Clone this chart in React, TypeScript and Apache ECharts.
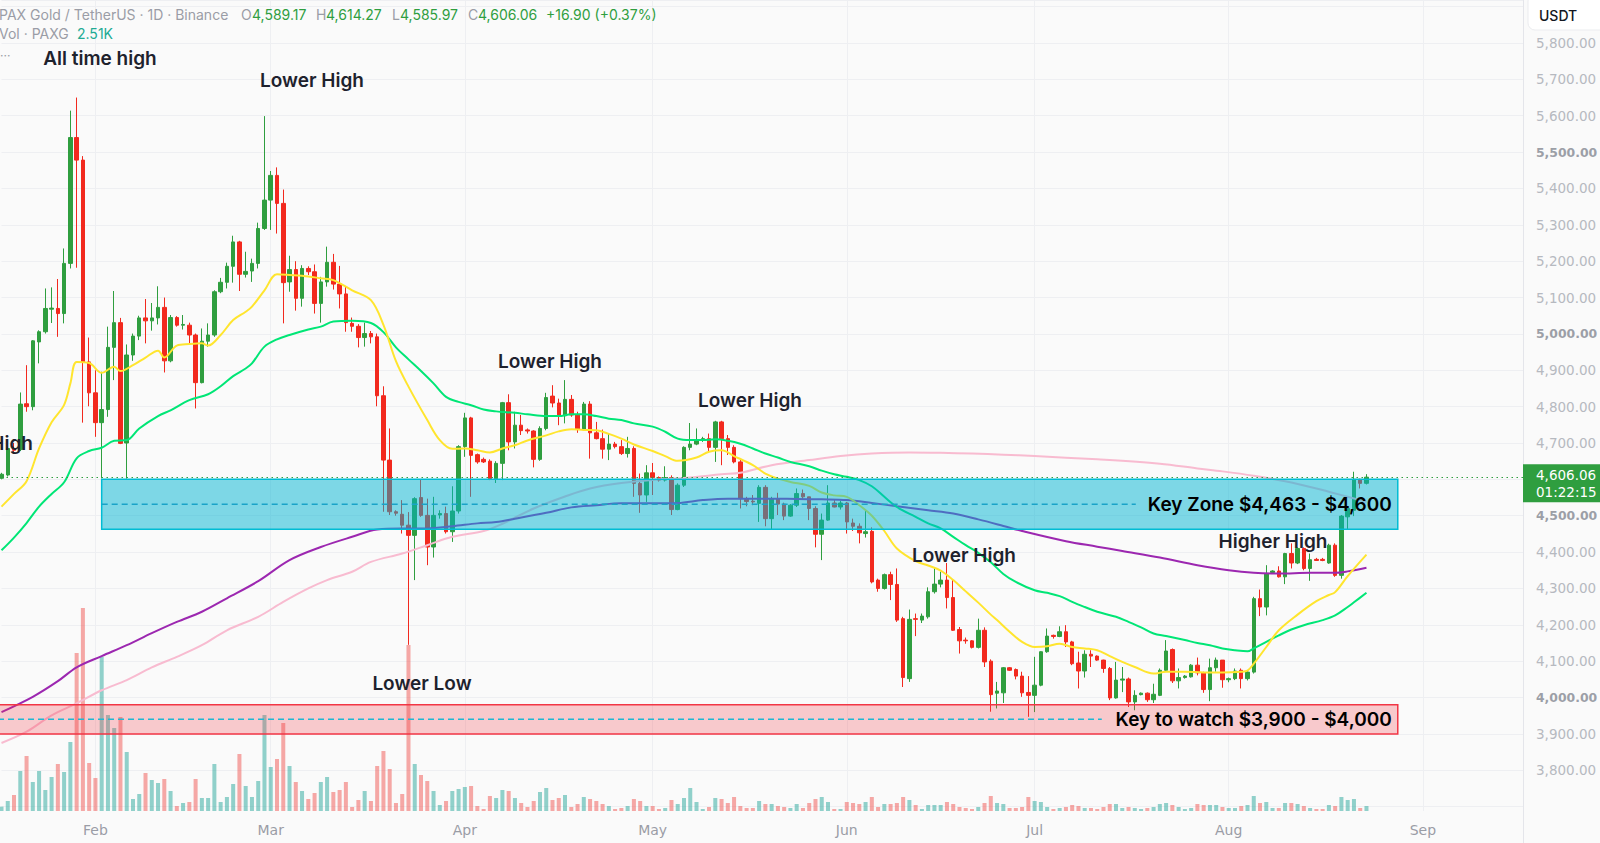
import React, { useEffect, useRef } from 'react';
import * as echarts from 'echarts';

const UP = '#2f9e3f';
const DOWN = '#f2291e';
const VOL_UP = 'rgba(38,166,154,0.5)';
const VOL_DOWN = 'rgba(239,83,80,0.5)';

// daily categories: 2026-01-17 .. 2026-09-16
const FIRST_DAY_UTC = Date.UTC(2026, 0, 17);
const AXIS_DAYS = 244;
const FEB1_INDEX = 15;
const MONTHS = ['Jan', 'Feb', 'Mar', 'Apr', 'May', 'Jun', 'Jul', 'Aug', 'Sep', 'Oct', 'Nov', 'Dec'];
const categories: string[] = Array.from({ length: AXIS_DAYS }, (_, i) =>
  new Date(FIRST_DAY_UTC + i * 86400000).toISOString().slice(0, 10)
);

// [open, close, low, high] from 2026-01-17 to 2026-08-23
const ohlc: number[][] = [
  [4603, 4614, 4600, 4618], [4612, 4685, 4608, 4690], [4685, 4680, 4670, 4700], [4682, 4807, 4678, 4839],
  [4808, 4800, 4786, 4914], [4800, 4981, 4790, 4983], [4978, 5006, 4919, 5010], [5006, 5070, 5001, 5125],
  [5068, 5071, 5030, 5128], [5070, 5056, 4992, 5151], [5056, 5194, 5029, 5235], [5194, 5540, 5180, 5614],
  [5540, 5478, 5182, 5650], [5478, 4923, 4756, 5489], [4923, 4838, 4801, 4990],
  // Feb
  [4838, 4756, 4717, 4900], [4756, 4792, 4603, 4896], [4792, 4963, 4772, 5020], [4963, 5031, 4873, 5118],
  [5031, 4699, 4697, 5044], [4700, 4942, 4602, 4971], [4942, 4994, 4926, 5001], [4994, 5044, 4983, 5050],
  [5044, 5036, 4974, 5096], [5036, 5044, 5009, 5085], [5044, 5073, 5026, 5131], [5073, 4926, 4894, 5100],
  [4926, 5045, 4922, 5052], [5045, 5024, 5020, 5049], [5024, 5026, 5012, 5052], [5024, 4997, 4972, 5031],
  [4997, 4866, 4795, 5001], [4866, 4980, 4864, 5015], [4980, 4997, 4965, 5029], [4997, 5116, 4992, 5120],
  [5116, 5142, 5112, 5154], [5142, 5186, 5125, 5196], [5186, 5253, 5141, 5270], [5253, 5164, 5118, 5256],
  [5164, 5172, 5155, 5226], [5173, 5194, 5143, 5207], [5194, 5290, 5180, 5306], [5290, 5368, 5286, 5599],
  // Mar
  [5368, 5436, 5286, 5448], [5436, 5359, 5276, 5458], [5359, 5141, 5029, 5397], [5143, 5177, 5116, 5215],
  [5177, 5098, 5064, 5200], [5098, 5180, 5075, 5189], [5180, 5171, 5162, 5186], [5171, 5084, 5056, 5191],
  [5084, 5143, 5031, 5157], [5143, 5197, 5130, 5240], [5197, 5137, 5122, 5220], [5137, 5110, 5070, 5187],
  [5110, 5031, 5006, 5130], [5029, 5021, 5006, 5045], [5021, 4990, 4963, 5027], [4990, 5001, 4965, 5031],
  [5001, 4992, 4974, 5008], [4992, 4830, 4801, 5001], [4830, 4653, 4511, 4856], [4653, 4511, 4502, 4740],
  [4511, 4507, 4500, 4515], [4504, 4474, 4451, 4543], [4474, 4446, 4145, 4510], [4446, 4547, 4323, 4551],
  [4550, 4501, 4497, 4600], [4501, 4414, 4364, 4547], [4414, 4501, 4385, 4552], [4502, 4506, 4492, 4515],
  [4506, 4456, 4451, 4525], [4456, 4513, 4428, 4581], [4513, 4690, 4506, 4694],
  // Apr
  [4690, 4769, 4662, 4783], [4769, 4666, 4552, 4772], [4668, 4648, 4643, 4671], [4655, 4648, 4645, 4660],
  [4650, 4602, 4598, 4655], [4602, 4644, 4590, 4650], [4644, 4811, 4598, 4813], [4811, 4703, 4680, 4834],
  [4703, 4749, 4685, 4786], [4749, 4734, 4722, 4777], [4736, 4733, 4726, 4740], [4733, 4655, 4633, 4735],
  [4655, 4740, 4651, 4746], [4740, 4825, 4735, 4838], [4829, 4810, 4798, 4859], [4810, 4775, 4749, 4822],
  [4775, 4820, 4754, 4873], [4820, 4777, 4772, 4832], [4777, 4737, 4728, 4786], [4737, 4807, 4735, 4813],
  [4807, 4728, 4657, 4815], [4728, 4712, 4710, 4758], [4712, 4683, 4657, 4737], [4683, 4697, 4653, 4726],
  [4697, 4690, 4685, 4703], [4690, 4671, 4667, 4708], [4671, 4685, 4660, 4717], [4685, 4589, 4552, 4691],
  [4589, 4557, 4508, 4616], [4557, 4618, 4538, 4639],
  // May
  [4618, 4605, 4557, 4645], [4605, 4598, 4594, 4608], [4598, 4605, 4594, 4636], [4605, 4517, 4502, 4611],
  [4517, 4584, 4515, 4589], [4584, 4688, 4579, 4691], [4688, 4697, 4680, 4755], [4697, 4708, 4694, 4740],
  [4708, 4712, 4703, 4717], [4712, 4688, 4676, 4726], [4688, 4758, 4648, 4761], [4758, 4712, 4639, 4761],
  [4712, 4688, 4667, 4722], [4688, 4648, 4644, 4694], [4648, 4547, 4520, 4657], [4545, 4539, 4526, 4552],
  [4540, 4538, 4529, 4557], [4534, 4578, 4483, 4584], [4578, 4492, 4471, 4584], [4492, 4547, 4462, 4552],
  [4547, 4532, 4502, 4563], [4532, 4499, 4488, 4536], [4499, 4529, 4497, 4532], [4529, 4561, 4524, 4575],
  [4561, 4552, 4545, 4572], [4552, 4520, 4488, 4552], [4520, 4449, 4413, 4526], [4449, 4488, 4378, 4506],
  [4488, 4535, 4486, 4584], [4535, 4524, 4523, 4543], [4524, 4535, 4517, 4541],
  // Jun
  [4535, 4483, 4451, 4538], [4480, 4471, 4458, 4492], [4471, 4453, 4424, 4479], [4451, 4456, 4440, 4515],
  [4457, 4318, 4314, 4468], [4323, 4300, 4291, 4327], [4300, 4338, 4297, 4341], [4338, 4311, 4268, 4346],
  [4311, 4213, 4208, 4355], [4217, 4055, 4029, 4222], [4052, 4215, 4043, 4242], [4217, 4215, 4169, 4231],
  [4213, 4224, 4205, 4231], [4222, 4291, 4217, 4303], [4291, 4312, 4286, 4359], [4312, 4323, 4303, 4346],
  [4323, 4275, 4245, 4370], [4275, 4185, 4183, 4323], [4187, 4156, 4121, 4194], [4158, 4156, 4148, 4165],
  [4156, 4138, 4135, 4158], [4138, 4185, 4135, 4217], [4185, 4098, 4084, 4193], [4100, 4008, 3961, 4105],
  [4012, 4018, 3970, 4043], [4013, 4082, 3985, 4084], [4082, 4075, 4073, 4084], [4077, 4059, 4050, 4080],
  [4059, 4013, 4002, 4071], [4014, 4006, 3947, 4059],
  // Jul
  [4006, 4034, 3960, 4112], [4034, 4126, 4031, 4127], [4126, 4169, 4123, 4190], [4171, 4168, 4162, 4173],
  [4168, 4181, 4166, 4196], [4181, 4153, 4139, 4199], [4153, 4093, 4089, 4156], [4095, 4073, 4025, 4126],
  [4073, 4119, 4055, 4130], [4119, 4114, 4084, 4130], [4114, 4103, 4101, 4116], [4103, 4080, 4068, 4104],
  [4080, 3999, 3993, 4084], [3999, 4048, 3997, 4098], [4048, 4051, 4015, 4084], [4051, 3988, 3974, 4055],
  [3988, 4006, 3965, 4020], [4008, 4012, 4006, 4014], [4012, 3994, 3988, 4014], [3994, 4009, 3985, 4038],
  [4006, 4075, 4004, 4080], [4075, 4128, 4071, 4158], [4132, 4046, 4040, 4135], [4046, 4055, 4025, 4080],
  [4055, 4059, 4052, 4062], [4057, 4089, 4055, 4092], [4089, 4068, 4061, 4110], [4068, 4022, 4013, 4071],
  [4022, 4082, 3990, 4107], [4082, 4103, 4071, 4110], [4103, 4049, 4027, 4103],
  // Aug
  [4049, 4052, 4042, 4055], [4052, 4073, 4048, 4080], [4075, 4052, 4025, 4080], [4052, 4070, 4047, 4075],
  [4070, 4272, 4066, 4277], [4272, 4249, 4224, 4297], [4249, 4341, 4226, 4364], [4344, 4348, 4340, 4350],
  [4348, 4332, 4330, 4361], [4332, 4396, 4312, 4398], [4396, 4370, 4355, 4424], [4370, 4410, 4367, 4413],
  [4410, 4355, 4350, 4413], [4355, 4379, 4321, 4396], [4380, 4377, 4376, 4384], [4380, 4377, 4375, 4384],
  [4370, 4419, 4368, 4423], [4419, 4336, 4332, 4424], [4336, 4499, 4327, 4502], [4497, 4520, 4462, 4525],
  [4515, 4600, 4499, 4621], [4600, 4589, 4575, 4602], [4589.17, 4606.06, 4585.97, 4614.27],
];

// volume, thousands of PAXG, same days
const volumeK: number[] = [
  2.2, 5, 8, 20, 27.5, 14.5, 20, 10.5, 17, 23.5, 19.5, 34.5, 79, 101.5, 24,
  16.5, 77, 48, 41.5, 47, 29.5, 6, 8.5, 19, 15.5, 14, 16, 10, 2.5, 4, 4.5, 16, 6.5, 6.5, 23.5,
  4.5, 7, 13.5, 28.5, 12.5, 7, 15, 48, 22, 26, 44, 22.5, 14.5, 10, 6, 9, 14.5, 17, 9.5, 10.5,
  14.5, 2, 5.5, 10, 5, 22.5, 30, 21, 4, 8.5, 83, 23.5, 18, 15, 10, 3, 5, 10, 11, 12,
  12.5, 2.5, 1, 7.5, 6.5, 10.5, 10, 6.5, 4, 2, 5, 9.5, 11.5, 5.5, 6.5, 8, 2, 3.5, 7, 6,
  5, 3.5, 2.5, 1, 1.5, 2.5, 6, 5, 2.5, 2.5, 1, 1.5, 5.5, 3.5, 6.5, 11.5, 4.5, 1, 2, 6.5,
  6, 4, 7, 2.5, 1.5, 1.5, 5, 3.5, 3.5, 2.5, 2, 1.5, 3.5,
  1.5, 4, 6, 7, 4.5, 1, 1, 4.5, 4, 3.5, 4.5, 7, 2, 3.5, 3.5, 4, 7, 5.5, 3, 1,
  3, 3, 3, 4.5, 3.5, 2, 1.5, 1, 2, 4, 7.5, 4, 3.5, 1.5, 1.5, 2, 7, 5, 4.5, 2,
  1, 1.5, 2, 3, 2.5, 1.5, 1.5, 1, 2, 3.5, 3.5, 1.5, 2, 1.5, 1, 1.5, 2, 3.5, 4, 3,
  2, 1, 1.5, 3.5, 3, 3, 3, 2, 1.5, 1.5, 2.5, 3, 7.5, 4, 4.5, 1.5, 1.5, 4, 4, 3.5,
  2.5, 1.5, 1, 1, 3, 2.5, 7, 5.5, 6, 1.5, 2.51,
];

// moving averages: [days after 1 Feb, price]
const maYellow: number[][] = [
  [-15, 4525], [-13, 4560], [-11, 4595], [-9, 4685], [-7, 4757], [-5, 4805], [-4, 4864], [-3, 4923],
  [-1, 4920], [1, 4893], [3, 4910], [4, 4898], [6, 4914], [8, 4935], [10, 4954], [11, 4935],
  [13, 4968], [15, 4972], [17, 4974], [18, 4968], [20, 4997], [22, 5038], [24, 5061], [25, 5075],
  [27, 5120], [29, 5164], [31, 5162], [34, 5158], [36, 5153], [38, 5148], [41, 5120], [44, 5093],
  [46, 5025], [48, 4925], [50, 4855], [53, 4763], [55, 4708], [57, 4684], [59, 4685], [61, 4680],
  [63, 4674], [65, 4685], [67, 4694], [69, 4707], [72, 4721], [74, 4732], [76, 4738], [78, 4736],
  [80, 4735], [82, 4725], [84, 4712], [86, 4696], [89, 4678], [91, 4664], [93, 4651], [96, 4660],
  [98, 4676], [100, 4680], [102, 4664], [105, 4639], [107, 4616], [109, 4602], [111, 4593], [114, 4582],
  [116, 4564], [118, 4556], [120, 4552], [122, 4529], [124, 4500], [126, 4458], [128, 4410], [131, 4375],
  [133, 4363], [135, 4349], [137, 4323], [139, 4292], [141, 4261], [143, 4228], [144, 4213], [146, 4181],
  [148, 4153], [150, 4139], [152, 4141], [154, 4148], [156, 4139], [158, 4135], [160, 4130], [162, 4114],
  [164, 4098], [166, 4084], [169, 4066], [171, 4071], [174, 4071], [177, 4069], [180, 4069], [183, 4071],
  [184, 4074], [185, 4093], [187, 4139], [189, 4185], [192, 4228], [195, 4265], [197, 4282], [198, 4290],
  [200, 4334], [203, 4393],
];
const maGreen: number[][] = [
  [-15, 4405], [-13, 4440], [-11, 4480], [-9, 4525], [-7, 4560], [-5, 4592], [-3, 4658], [-1, 4678],
  [1, 4687], [3, 4706], [5, 4708], [7, 4740], [10, 4774], [12, 4790], [15, 4818], [18, 4834],
  [20, 4856], [22, 4884], [24, 4905], [25, 4919], [27, 4965], [29, 4985], [31, 4997], [34, 5012],
  [36, 5020], [38, 5034], [41, 5036], [44, 5030], [46, 5005], [48, 4963], [50, 4930], [52, 4898],
  [54, 4864], [56, 4827], [58, 4813], [60, 4804], [62, 4792], [64, 4787], [67, 4783], [69, 4779],
  [72, 4774], [74, 4774], [76, 4779], [78, 4779], [80, 4774], [82, 4767], [84, 4763], [86, 4754],
  [89, 4745], [91, 4731], [93, 4712], [95, 4708], [97, 4708], [99, 4710], [101, 4706], [103, 4698],
  [105, 4685], [107, 4671], [109, 4660], [111, 4648], [114, 4636], [116, 4624], [118, 4614], [120, 4607],
  [122, 4598], [124, 4581], [126, 4552], [128, 4524], [131, 4497], [133, 4479], [135, 4465], [137, 4442],
  [139, 4419], [141, 4398], [143, 4372], [145, 4340], [147, 4318], [150, 4295], [152, 4288], [154, 4279],
  [156, 4263], [158, 4249], [160, 4236], [163, 4222], [165, 4208], [167, 4193], [169, 4176], [171, 4169],
  [174, 4158], [176, 4150], [178, 4144], [180, 4135], [182, 4130], [184, 4127], [185, 4135], [187, 4153],
  [189, 4171], [191, 4187], [193, 4199], [196, 4213], [198, 4226], [200, 4249], [201, 4262], [203, 4288],
];
const maPurple: number[][] = [
  [-15, 3960], [-10, 4002], [-6, 4045], [-3, 4083], [1, 4114], [5, 4144], [9, 4177], [13, 4208],
  [17, 4236], [21, 4273], [26, 4320], [31, 4378], [36, 4414], [41, 4442], [45, 4462], [49, 4465],
  [53, 4465], [57, 4471], [61, 4479], [64, 4483], [67, 4492], [72, 4508], [76, 4523], [80, 4529],
  [84, 4534], [89, 4534], [93, 4535], [97, 4543], [101, 4547], [107, 4547], [112, 4546], [116, 4545],
  [120, 4543], [124, 4535], [128, 4526], [133, 4515], [137, 4506], [141, 4490], [145, 4472], [148, 4458],
  [155, 4430], [160, 4415], [164, 4403], [170, 4385], [176, 4364], [181, 4350], [185, 4343], [189, 4341],
  [194, 4343], [198, 4343], [200, 4347], [203, 4357],
];
const maPink: number[][] = [
  [-15, 3875], [-11, 3906], [-7, 3951], [-3, 3984], [1, 4020], [5, 4048], [9, 4083], [13, 4112],
  [17, 4144], [21, 4185], [26, 4222], [30, 4263], [34, 4300], [37, 4323], [41, 4346], [44, 4373],
  [49, 4396], [53, 4419], [57, 4442], [62, 4458], [65, 4478], [70, 4520], [75, 4553], [79, 4575],
  [84, 4590], [90, 4600], [95, 4605], [100, 4614], [103, 4618], [108, 4639], [114, 4653], [119, 4664],
  [124, 4671], [130, 4674], [135, 4673], [140, 4671], [145, 4668], [150, 4664], [160, 4655], [170, 4643],
  [176, 4630], [180, 4622], [185, 4610], [190, 4595], [195, 4575], [200, 4552], [203, 4538],
];

// price scale: bottom of the window = 3600, top = 5918.3, labels every 100 from 3800 to 5800
const priceTicks = { min: 3600, max: 5918.3, step: 100, firstLabel: 3800, lastLabel: 5800 };
const keyZone = { from: '2026-02-02', to: '2026-08-28', low: 4463, high: 4600 };
const watchZone = { to: '2026-08-28', low: 3900, high: 3980 };
const lastPrice = 4606.06;

const annotations = [
  { text: 'All time high', x: 100, y: 58 },
  { text: 'Lower High', x: 312, y: 80 },
  { text: 'Lower High', x: 550, y: 361 },
  { text: 'Lower High', x: 750, y: 400 },
  { text: 'Lower High', x: 964, y: 555 },
  { text: 'Higher High', x: 1273, y: 541 },
  { text: 'Lower Low', x: 422, y: 683 },
];

const fmt2 = (v: number) =>
  v.toLocaleString('en-US', { minimumFractionDigits: 2, maximumFractionDigits: 2 });

const maSeries = (pts: number[][], color: string, name: string) => ({
  name,
  type: 'line',
  xAxisIndex: 0,
  yAxisIndex: 0,
  data: pts.map(([d, v]) => [categories[d + FEB1_INDEX], v]),
  smooth: 0.35,
  showSymbol: false,
  symbol: 'none',
  clip: false,
  z: 4,
  lineStyle: { color, width: 2 },
  silent: true,
});

const FONT = 'Inter, "Noto Sans", Roboto, sans-serif';
const AXIS_FONT = '"DejaVu Sans", sans-serif';

export default function App() {
  const ref = useRef<HTMLDivElement>(null);
  useEffect(() => {
    document.body.style.margin = '0';
    const el = ref.current!;
    const chart = echarts.init(el, null, { renderer: 'svg' });
    const isMonthStart = (i: number) => !!categories[i] && categories[i].endsWith('-01');
    chart.setOption({
      animation: false,
      backgroundColor: '#fafafa',
      grid: [
        { left: 1.5, right: 77, top: 0, bottom: 0, containLabel: false, outerBoundsMode: 'none' },
        { left: 1.5, right: 77, top: 0, bottom: 32, containLabel: false, outerBoundsMode: 'none' },
      ],
      xAxis: [
        {
          type: 'category', gridIndex: 0, data: categories, boundaryGap: false,
          axisLine: { show: false }, axisTick: { show: false }, axisLabel: { show: false },
          splitLine: { show: false },
        },
        {
          type: 'category', gridIndex: 1, data: categories, boundaryGap: false,
          axisLine: { show: false }, axisTick: { show: false },
          axisLabel: {
            interval: (i: number) => isMonthStart(i),
            formatter: (v: string) => MONTHS[Number(v.slice(5, 7)) - 1],
            color: '#9a9da6', fontSize: 14, fontFamily: AXIS_FONT, margin: 12,
          },
          splitLine: {
            show: true,
            interval: (i: number) => isMonthStart(i),
            lineStyle: { color: '#eeeff2', width: 1 },
          },
        },
      ],
      yAxis: [
        {
          type: 'value', gridIndex: 0, position: 'right',
          min: priceTicks.min, max: priceTicks.max, interval: priceTicks.step,
          axisLine: { show: true, lineStyle: { color: '#e4e5ea' } },
          axisTick: { show: false },
          splitLine: { show: true, lineStyle: { color: '#eeeff2', width: 1 } },
          axisLabel: {
            margin: 13,
            showMaxLabel: false,
            formatter: (v: number) =>
              v < priceTicks.firstLabel || v > priceTicks.lastLabel || v === 4600
                ? ''
                : v % 500 === 0 ? `{b|${fmt2(v)}}` : `{n|${fmt2(v)}}`,
            rich: {
              n: { color: '#b6b9c0', fontSize: 13.5, fontFamily: AXIS_FONT },
              b: { color: '#9c9fa7', fontSize: 12.4, fontFamily: AXIS_FONT, fontWeight: 'bold' },
            },
          },
        },
        {
          type: 'value', gridIndex: 1, min: 0, max: 405.5, show: false,
          splitLine: { show: false },
        },
      ],
      series: [
        {
          name: 'Volume', type: 'bar', xAxisIndex: 1, yAxisIndex: 1, barWidth: 4, z: 1, clip: false,
          silent: true,
          data: volumeK.map((v, i) => ({
            value: v,
            itemStyle: { color: ohlc[i][1] >= ohlc[i][0] ? VOL_UP : VOL_DOWN },
          })),
        },
        {
          name: 'PAXGUSDT', type: 'candlestick', xAxisIndex: 0, yAxisIndex: 0, barWidth: 4,
          clip: false, z: 3, silent: true,
          data: ohlc,
          itemStyle: { color: UP, color0: DOWN, borderColor: UP, borderColor0: DOWN, borderWidth: 1 },
          markLine: {
            silent: true, symbol: 'none', label: { show: false },
            lineStyle: { type: [1.5, 3.5], color: UP, width: 1.2 },
            data: [{ yAxis: lastPrice }],
          },
        },
        maSeries(maPink, '#f8bbd0', 'MA200'),
        maSeries(maPurple, '#9c27b0', 'MA100'),
        maSeries(maGreen, '#00e676', 'MA50'),
        maSeries(maYellow, '#ffe52e', 'MA20'),
      ],
    });

    const px = (cat: string, price: number) =>
      chart.convertToPixel({ gridIndex: 0 }, [cat, price]) as number[];
    const kTop = px(keyZone.from, keyZone.high);
    const kBot = px(keyZone.to, keyZone.low);
    const kMid = (kTop[1] + kBot[1]) / 2;
    const wTop = px(watchZone.to, watchZone.high);
    const wBot = px(watchZone.to, watchZone.low);
    const wMid = (wTop[1] + wBot[1]) / 2;
    const lastY = px(categories[0], lastPrice)[1];
    const textRight = kBot[0] - 6;

    const txt = (text: string, x: number, y: number, o: any = {}) => ({
      type: 'text', z: 100, silent: true,
      style: {
        text, x, y, fill: o.fill || '#1e222d', fontSize: o.fontSize || 19,
        fontWeight: o.fontWeight || 600, fontFamily: o.fontFamily || FONT,
        textAlign: o.align || 'center', align: o.align || 'center',
        textVerticalAlign: 'middle', verticalAlign: 'middle',
      },
    });

    const legendGray = '#9a9da6';
    chart.setOption({
      graphic: [
        // zones
        {
          type: 'rect', z: 50, silent: true,
          shape: { x: -2, y: wTop[1], width: wBot[0] + 2, height: wBot[1] - wTop[1] },
          style: { fill: 'rgba(242,54,69,0.25)', stroke: '#f23645', lineWidth: 1.5 },
        },
        {
          type: 'line', z: 51, silent: true,
          shape: { x1: -2, y1: wMid, x2: textRight - 290, y2: wMid },
          style: { stroke: '#1fb8d3', lineWidth: 1.5, lineDash: [6, 4] },
        },
        {
          type: 'rect', z: 50, silent: true,
          shape: { x: kTop[0], y: kTop[1], width: kBot[0] - kTop[0], height: kBot[1] - kTop[1] },
          style: { fill: 'rgba(0,180,210,0.5)', stroke: '#00bcd4', lineWidth: 1.5 },
        },
        {
          type: 'line', z: 51, silent: true,
          shape: { x1: kTop[0], y1: kMid, x2: textRight - 256, y2: kMid },
          style: { stroke: '#1aa3c8', lineWidth: 1.5, lineDash: [6, 4] },
        },
        txt('Key Zone $4,463 - $4,600', textRight, kMid, { align: 'right', fill: '#000' }),
        txt('Key to watch $3,900 - $4,000', textRight, wMid, { align: 'right', fill: '#000' }),
        ...annotations.map((a) => txt(a.text, a.x, a.y)),
        txt('High', 33, 443, { align: 'right' }),
        // legend
        txt('PAX Gold / TetherUS · 1D · Binance', -1, 14, { align: 'left', fontSize: 14, fontWeight: 400, fill: legendGray }),
        txt('O', 241, 14, { align: 'left', fontSize: 14, fontWeight: 400, fill: legendGray }),
        txt('4,589.17', 252, 14, { align: 'left', fontSize: 14, fontWeight: 400, fill: UP }),
        txt('H', 316, 14, { align: 'left', fontSize: 14, fontWeight: 400, fill: legendGray }),
        txt('4,614.27', 326, 14, { align: 'left', fontSize: 14, fontWeight: 400, fill: UP }),
        txt('L', 392, 14, { align: 'left', fontSize: 14, fontWeight: 400, fill: legendGray }),
        txt('4,585.97', 400, 14, { align: 'left', fontSize: 14, fontWeight: 400, fill: UP }),
        txt('C', 468, 14, { align: 'left', fontSize: 14, fontWeight: 400, fill: legendGray }),
        txt('4,606.06', 478, 14, { align: 'left', fontSize: 14, fontWeight: 400, fill: UP }),
        txt('+16.90 (+0.37%)', 546, 14, { align: 'left', fontSize: 14, fontWeight: 400, fill: UP }),
        txt('Vol · PAXG', -1, 33, { align: 'left', fontSize: 14, fontWeight: 400, fill: legendGray }),
        txt('2.51K', 77, 33, { align: 'left', fontSize: 14, fontWeight: 400, fill: '#22ab94' }),
        txt('···', 0, 55, { align: 'left', fontSize: 12, fontWeight: 400, fill: legendGray }),
        // USDT box
        {
          type: 'rect', z: 90, silent: true,
          shape: { x: 1528, y: -6, width: 80, height: 36, r: 7 },
          style: { fill: '#ffffff', stroke: '#ebecef', lineWidth: 1 },
        },
        txt('USDT', 1539, 15, { align: 'left', fontSize: 14, fontWeight: 500, fill: '#131722', fontFamily: FONT }),
        // last price label
        {
          type: 'rect', z: 90, silent: true,
          shape: { x: 1523, y: lastY - 13, width: 80, height: 38 },
          style: { fill: UP },
        },
        txt(fmt2(lastPrice), 1536, lastY - 2, { align: 'left', fontSize: 13.5, fontWeight: 400, fill: '#fff', fontFamily: AXIS_FONT }),
        txt('01:22:15', 1536, lastY + 15, { align: 'left', fontSize: 13.5, fontWeight: 400, fill: '#fff', fontFamily: AXIS_FONT }),
      ],
    });

    return () => chart.dispose();
  }, []);
  return <div ref={ref} style={{ width: 1600, height: 843 }} />;
}
